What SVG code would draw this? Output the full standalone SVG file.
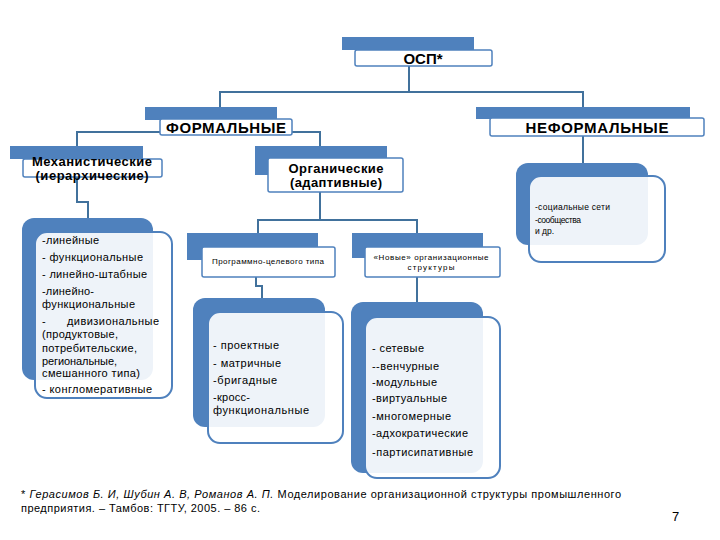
<svg xmlns="http://www.w3.org/2000/svg" width="720" height="540" viewBox="0 0 720 540">
<style>
.bar{fill:#4f81bd}
.box{fill:#ffffff;stroke:#4f81bd;stroke-width:1.5}
.rb{fill:#4f81bd}
.rf{fill:#ffffff;fill-opacity:0.9;stroke:#4f81bd;stroke-width:2}
.conn{fill:none;stroke:#41719c;stroke-width:2}
text{font-family:"Liberation Sans",Arial,sans-serif;fill:#000}
.h{font-weight:bold;text-anchor:middle}
.h15{font-size:15px}
.h13{font-size:13px}
.s8{font-size:8px;text-anchor:middle}
.t11{font-size:11px}
.t85{font-size:8.5px}
.fn{font-size:11px}
</style>
<rect width="720" height="540" fill="#ffffff"/>
<g id="connectors">
<path class="conn" d="M409 66 V92 M220 107 V92 H583 V107"/>
<path class="conn" d="M77 146 V132 H160 M292 132 H320 V146"/>
<path class="conn" d="M77 177 V202 H88 V218"/>
<path class="conn" d="M320 192 V220 M258 233 V220 H417 V233"/>
<path class="conn" d="M256 277 V286 H262 V298"/>
<path class="conn" d="M417 277 V302"/>
<path class="conn" d="M583 136 V163"/>
</g>
<g id="osp">
<rect class="bar" x="342" y="37" width="132" height="13"/>
<rect class="box" x="355" y="50" width="137" height="16" rx="2"/>
<text class="h h15" x="423" y="64">ОСП*</text>
</g>
<g id="formal">
<rect class="bar" x="145" y="107" width="132" height="13"/>
<rect class="box" x="160" y="119" width="132" height="16" rx="2"/>
<text class="h h15" x="226" y="133" textLength="120">ФОРМАЛЬНЫЕ</text>
</g>
<g id="informal">
<rect class="bar" x="476" y="107" width="214" height="12"/>
<rect class="box" x="490" y="118" width="214" height="18" rx="2"/>
<text class="h h15" x="597" y="133" textLength="143">НЕФОРМАЛЬНЫЕ</text>
</g>
<g id="mech">
<rect class="bar" x="10" y="146" width="133" height="13"/>
<rect class="box" x="23" y="159" width="139" height="18" rx="2"/>
<text class="h h13" x="92" y="166" textLength="120">Механистические</text>
<text class="h h13" x="92" y="180" textLength="113">(иерархические)</text>
</g>
<g id="organic">
<rect class="bar" x="255" y="146" width="132" height="29"/>
<rect class="box" x="268" y="158" width="135" height="34" rx="2"/>
<text class="h h13" x="336" y="173" textLength="95">Органические</text>
<text class="h h13" x="336" y="187" textLength="92">(адаптивные)</text>
</g>
<g id="pct">
<rect class="bar" x="187" y="233" width="131" height="27"/>
<rect class="box" x="202" y="247" width="133" height="30" rx="2"/>
<text class="s8" x="268" y="264" textLength="112">Программно-целевого типа</text>
</g>
<g id="new">
<rect class="bar" x="352" y="233" width="131" height="25"/>
<rect class="box" x="365" y="247" width="135" height="30" rx="2"/>
<text class="s8" x="431" y="260" textLength="115">«Новые» организационные</text>
<text class="s8" x="431" y="270" textLength="47">структуры</text>
</g>
<g id="mech-list">
<rect class="rb" x="22" y="218" width="131" height="162" rx="12"/>
<rect class="rf" x="35" y="232" width="137" height="166" rx="12"/>
<text class="t11" x="42" y="244" textLength="57">-линейные</text>
<text class="t11" x="42" y="261" textLength="101">- функциональные</text>
<text class="t11" x="42" y="278" textLength="105">- линейно-штабные</text>
<text class="t11" x="42" y="295" textLength="52">-линейно-</text>
<text class="t11" x="42" y="308" textLength="93">функциональные</text>
<text class="t11" y="325"><tspan x="42">-</tspan><tspan x="67" textLength="92">дивизиональные</tspan></text>
<text class="t11" x="42" y="338" textLength="76">(продуктовые,</text>
<text class="t11" x="42" y="352" textLength="95">потребительские,</text>
<text class="t11" x="42" y="365" textLength="75">региональные,</text>
<text class="t11" x="42" y="377" textLength="98">смешанного типа)</text>
<text class="t11" x="42" y="393" textLength="110">- конгломеративные</text>
</g>
<g id="pct-list">
<rect class="rb" x="193" y="298" width="132" height="129" rx="12"/>
<rect class="rf" x="208" y="312" width="135" height="131" rx="12"/>
<text class="t11" x="213" y="349" textLength="66">- проектные</text>
<text class="t11" x="213" y="367" textLength="68">- матричные</text>
<text class="t11" x="213" y="384" textLength="64">-бригадные</text>
<text class="t11" x="213" y="401" textLength="37">-кросс-</text>
<text class="t11" x="213" y="414" textLength="96">функциональные</text>
</g>
<g id="new-list">
<rect class="rb" x="351" y="302" width="132" height="171" rx="12"/>
<rect class="rf" x="365" y="317" width="135" height="161" rx="12"/>
<text class="t11" x="372" y="352" textLength="52">- сетевые</text>
<text class="t11" x="372" y="370" textLength="67">--венчурные</text>
<text class="t11" x="372" y="386" textLength="65">-модульные</text>
<text class="t11" x="372" y="402" textLength="75">-виртуальные</text>
<text class="t11" x="372" y="420" textLength="79">-многомерные</text>
<text class="t11" x="372" y="437" textLength="96">-адхократические</text>
<text class="t11" x="372" y="456" textLength="101">-партисипативные</text>
</g>
<g id="informal-list">
<rect class="rb" x="516" y="163" width="132" height="82" rx="12"/>
<rect class="rf" x="529" y="176" width="136" height="86" rx="12"/>
<text class="t85" x="535" y="210" textLength="75">-социальные сети</text>
<text class="t85" x="535" y="223" textLength="46">-сообщества</text>
<text class="t85" x="535" y="234" textLength="19">и др.</text>
</g>
<g id="footnote">
<text class="fn" x="21" y="498" textLength="600">* <tspan font-style="italic">Герасимов Б. И, Шубин А. В, Романов А. П.</tspan> Моделирование организационной структуры промышленного</text>
<text class="fn" x="21" y="512" textLength="239">предприятия. – Тамбов: ТГТУ, 2005. – 86 с.</text>
<text x="672" y="521" font-size="13">7</text>
</g>
</svg>
